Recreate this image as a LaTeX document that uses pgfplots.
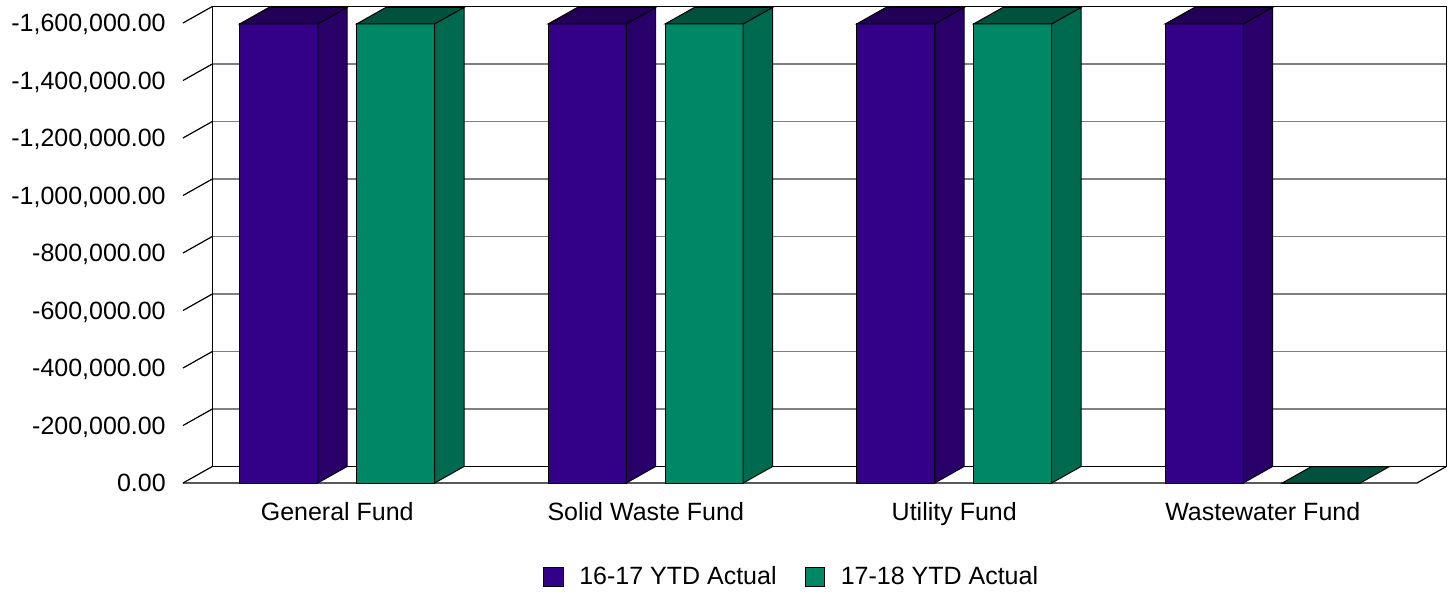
\documentclass[border=0pt]{standalone}
\usepackage{fontspec}
\setmainfont{Liberation Sans}
\usepackage{pgfplots}
\pgfplotsset{compat=1.18}
\definecolor{pfront}{RGB}{51,0,136}
\definecolor{pside}{RGB}{41,0,106}
\definecolor{ptop}{RGB}{33,0,85}
\definecolor{gfront}{RGB}{0,136,102}
\definecolor{gside}{RGB}{0,106,80}
\definecolor{gtop}{RGB}{0,82,62}
\begin{document}
\fontsize{12.5pt}{15pt}\selectfont
\begin{tikzpicture}
% back wall
\begin{axis}[
  at={(14.65pt,8.25pt)}, anchor=south west,
  scale only axis, width=617pt, height=230pt,
  xmin=-0.5, xmax=3.5, ymin=-1600000, ymax=0, y dir=reverse,
  axis line style={draw=black, line width=0.6pt},
  ytick={0,-200000,-400000,-600000,-800000,-1000000,-1200000,-1400000,-1600000},
  xtick=\empty, yticklabel=\empty, major tick length=0pt,
  ymajorgrids, grid style={gray, line width=0.6pt},
]
\addplot[draw=none] coordinates {(0,0)};
\end{axis}
% front
\begin{axis}[
  at={(0,0)}, anchor=south west,
  scale only axis, width=617pt, height=230pt,
  xmin=-0.5, xmax=3.5, ymin=-1600000, ymax=0, y dir=reverse,
  clip=false,
  axis line style={draw=none},
  major tick length=0pt,
  ytick={0,-200000,-400000,-600000,-800000,-1000000,-1200000,-1400000,-1600000},
  yticklabel style={/pgf/number format/fixed, /pgf/number format/fixed zerofill, /pgf/number format/precision=2, /pgf/number format/1000 sep={,}, /pgf/number format/assume math mode=true},
  yticklabel style={font=\fontsize{12.5pt}{15pt}\selectfont, xshift=-4.3pt, text depth=0pt},
  scaled y ticks=false,
  xtick={0,1,2,3},
  xticklabels={General Fund, Solid Waste Fund, Utility Fund, Wastewater Fund},
  xticklabel style={font=\fontsize{12.5pt}{15pt}\selectfont, text height=9.1pt, text depth=2.6pt, yshift=-5.25pt},
  legend columns=2,
  legend style={at={(0.494,0)}, anchor=center, yshift=-47pt, draw=none, fill=none,
    font=\fontsize{12.5pt}{15pt}\selectfont,
    /tikz/every even column/.append style={column sep=12pt}},
]
% floor and left wall
\addplot[black, line width=0.6pt, forget plot] coordinates {(-0.5,0) (3.5,0) (3.595,-57400)};
\pgfplotsinvokeforeach{0,-200000,-400000,-600000,-800000,-1000000,-1200000,-1400000,-1600000}{
  \draw[black, line width=0.6pt] (axis cs:-0.5,#1) -- ++(14.65pt,8.25pt);
}
% front faces
\addplot[ybar, bar width=0.2528, bar shift=-0.1896, fill=pfront, draw=black, line width=0.5pt,
  legend image code/.code={\draw[fill=pfront,draw=black] (0pt,-4.9pt) rectangle (9.8pt,4.9pt); \path (15.6pt,0pt);}]
  coordinates {(0,-1597000) (1,-1597000) (2,-1597000) (3,-1597000)};
\addlegendentry{16-17 YTD Actual}
\addplot[ybar, bar width=0.2528, bar shift=0.1896, fill=gfront, draw=black, line width=0.5pt,
  legend image code/.code={\draw[fill=gfront,draw=black] (0pt,-4.9pt) rectangle (9.8pt,4.9pt); \path (15.6pt,0pt);}]
  coordinates {(0,-1597000) (1,-1597000) (2,-1597000) (3,0)};
\addlegendentry{17-18 YTD Actual}
% purple sides
\addplot[fill=pside, draw=black, line width=0.5pt, forget plot] coordinates {(-0.0632,0) (0.0318,-57400) (0.0318,-1654400) (-0.0632,-1597000)} -- cycle;
\addplot[fill=pside, draw=black, line width=0.5pt, forget plot] coordinates {(0.9368,0) (1.0318,-57400) (1.0318,-1654400) (0.9368,-1597000)} -- cycle;
\addplot[fill=pside, draw=black, line width=0.5pt, forget plot] coordinates {(1.9368,0) (2.0318,-57400) (2.0318,-1654400) (1.9368,-1597000)} -- cycle;
\addplot[fill=pside, draw=black, line width=0.5pt, forget plot] coordinates {(2.9368,0) (3.0318,-57400) (3.0318,-1654400) (2.9368,-1597000)} -- cycle;
% purple tops
\addplot[fill=ptop, draw=black, line width=0.5pt, forget plot] coordinates {(-0.316,-1597000) (-0.221,-1654400) (0.0318,-1654400) (-0.0632,-1597000)} -- cycle;
\addplot[fill=ptop, draw=black, line width=0.5pt, forget plot] coordinates {(0.684,-1597000) (0.779,-1654400) (1.0318,-1654400) (0.9368,-1597000)} -- cycle;
\addplot[fill=ptop, draw=black, line width=0.5pt, forget plot] coordinates {(1.684,-1597000) (1.779,-1654400) (2.0318,-1654400) (1.9368,-1597000)} -- cycle;
\addplot[fill=ptop, draw=black, line width=0.5pt, forget plot] coordinates {(2.684,-1597000) (2.779,-1654400) (3.0318,-1654400) (2.9368,-1597000)} -- cycle;
% green sides
\addplot[fill=gside, draw=black, line width=0.5pt, forget plot] coordinates {(0.316,0) (0.411,-57400) (0.411,-1654400) (0.316,-1597000)} -- cycle;
\addplot[fill=gside, draw=black, line width=0.5pt, forget plot] coordinates {(1.316,0) (1.411,-57400) (1.411,-1654400) (1.316,-1597000)} -- cycle;
\addplot[fill=gside, draw=black, line width=0.5pt, forget plot] coordinates {(2.316,0) (2.411,-57400) (2.411,-1654400) (2.316,-1597000)} -- cycle;
% green tops
\addplot[fill=gtop, draw=black, line width=0.5pt, forget plot] coordinates {(0.0632,-1597000) (0.1582,-1654400) (0.411,-1654400) (0.316,-1597000)} -- cycle;
\addplot[fill=gtop, draw=black, line width=0.5pt, forget plot] coordinates {(1.0632,-1597000) (1.1582,-1654400) (1.411,-1654400) (1.316,-1597000)} -- cycle;
\addplot[fill=gtop, draw=black, line width=0.5pt, forget plot] coordinates {(2.0632,-1597000) (2.1582,-1654400) (2.411,-1654400) (2.316,-1597000)} -- cycle;
\addplot[fill=gtop, draw=black, line width=0.5pt, forget plot] coordinates {(3.0632,0) (3.1582,-57400) (3.411,-57400) (3.316,0)} -- cycle;
\end{axis}
\pgfresetboundingbox
\path[use as bounding box] (-91.5pt,-56pt) rectangle (636pt,241.5pt);
\end{tikzpicture}
\end{document}
